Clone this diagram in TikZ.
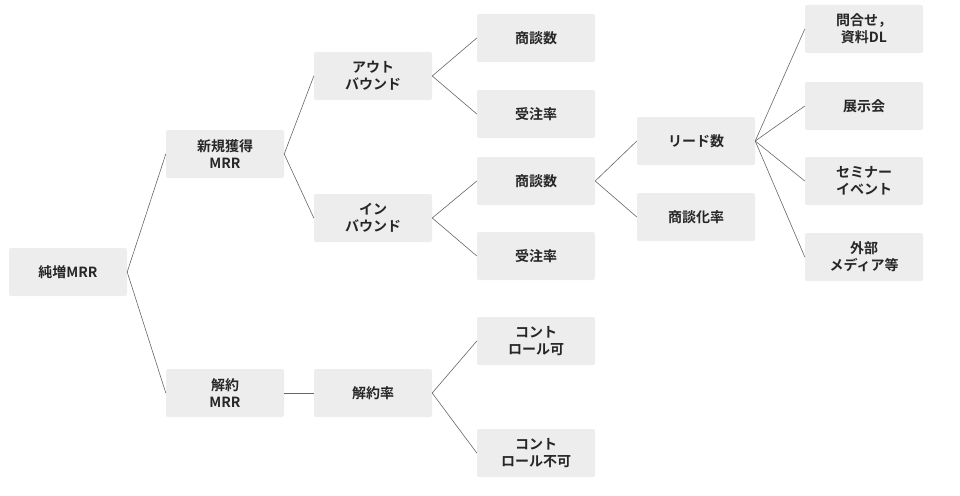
\documentclass[tikz,border=0pt]{standalone}
\usepackage{fontspec}
\setmainfont{Noto Sans CJK JP}[BoldFont={* Bold}]
\begin{document}
\begin{tikzpicture}[x=1pt,y=-1pt,
  box/.style={fill=black!7,rounded corners=2pt,minimum width=118pt,minimum height=48pt,align=center,font=\fontsize{14}{17}\selectfont\bfseries,text=black!85,inner sep=1pt},
  link/.style={draw=black!60,line width=0.6pt}]
\useasboundingbox (0,0) rectangle (960,495);
\node[box] (a) at (68,272) {純増MRR};
\node[box] (b1) at (225,154) {新規獲得\\MRR};
\node[box] (b2) at (225,393) {解約\\MRR};
\node[box] (c1) at (373,76) {アウト\\バウンド};
\node[box] (c2) at (373,218) {イン\\バウンド};
\node[box] (c3) at (373,393) {解約率};
\node[box] (d1) at (536,38) {商談数};
\node[box] (d2) at (536,114) {受注率};
\node[box] (d3) at (536,181) {商談数};
\node[box] (d4) at (536,256) {受注率};
\node[box] (d5) at (536,341) {コント\\ロール可};
\node[box] (d6) at (536,453) {コント\\ロール不可};
\node[box] (e1) at (696,141) {リード数};
\node[box] (e2) at (696,217) {商談化率};
\node[box] (f1) at (864,29) {問合せ，\\資料DL};
\node[box] (f2) at (864,106) {展示会};
\node[box] (f3) at (864,181) {セミナー\\イベント};
\node[box] (f4) at (864,257) {外部\\メディア等};
\foreach \p/\c in {a/b1,a/b2,b1/c1,b1/c2,b2/c3,c1/d1,c1/d2,c2/d3,c2/d4,c3/d5,c3/d6,d3/e1,d3/e2,e1/f1,e1/f2,e1/f3,e1/f4}
  \draw[link] (\p.east) -- (\c.west);
\end{tikzpicture}
\end{document}
